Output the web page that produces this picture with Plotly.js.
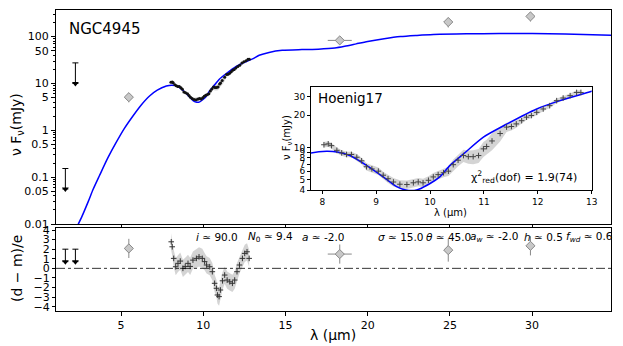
<!DOCTYPE html>
<html><head><meta charset="utf-8">
<script src="https://cdn.plot.ly/plotly-3.0.1.min.js"></script>
<style>html,body{margin:0;padding:0;background:#fff}#plot{width:623px;height:346px}</style>
</head><body><div id="plot"></div>
<script>
// ---- model SED (blue line) ----
const modelLam = [2.3, 2.6, 3.0, 3.3, 3.68, 4.2, 4.7, 5.2, 5.71, 6.2, 6.73, 7.2, 7.75, 8.08, 8.3, 8.51, 8.82, 9.13, 9.38, 9.55, 9.75, 10.0, 10.18, 10.37, 10.62, 10.99, 11.42, 11.98, 12.41, 13.0, 13.4, 14.0, 14.8, 16.0, 17.0, 18.0, 18.6, 19.3, 20.0, 21.0, 22.0, 23.0, 24.0, 26.0, 28.0, 30.0, 32.0, 34.8];
const modelF   = [0.0085, 0.014, 0.03, 0.055, 0.107, 0.26, 0.55, 1.1, 2.0, 3.4, 5.4, 7.2, 8.8, 9.2, 9.0, 8.4, 6.8, 5.3, 4.3, 4.0, 4.0, 4.6, 5.3, 6.8, 8.7, 12.5, 16.5, 22.9, 27.4, 33.5, 40, 46, 51, 53, 54, 57, 62, 70, 79, 90, 100, 106, 111, 115, 116, 116, 113, 107];

// ---- spectrum (Hoenig17) ----
const specLam = [8.03, 8.11, 8.17, 8.27, 8.36, 8.45, 8.54, 8.64, 8.73, 8.82, 8.92, 9.04, 9.13, 9.22, 9.32, 9.44, 9.57, 9.69, 9.78, 9.87, 9.97, 10.06, 10.15, 10.25, 10.34, 10.43, 10.52, 10.62, 10.71, 10.8, 10.9, 10.99, 11.05, 11.15, 11.3, 11.42, 11.51, 11.6, 11.7, 11.79, 11.88, 11.98, 12.1, 12.22, 12.35, 12.47, 12.6, 12.72, 12.8];
const specF   = [10.6, 10.8, 10.4, 9.4, 8.9, 8.6, 8.6, 8.1, 7.5, 6.6, 6.3, 6.0, 5.5, 5.1, 4.75, 4.53, 4.5, 4.67, 4.76, 4.67, 4.93, 5.3, 5.57, 5.8, 6.0, 6.9, 7.6, 8.4, 8.2, 8.2, 8.4, 9.7, 10.2, 11.5, 13.5, 15.5, 15.7, 16.6, 17.8, 19.2, 19.9, 21.3, 22.9, 24.6, 27.4, 29.0, 30.5, 32.7, 32.7];
const specErrFrac = [0.06, 0.06, 0.06, 0.06, 0.06, 0.06, 0.06, 0.07, 0.07, 0.08, 0.08, 0.08, 0.08, 0.09, 0.09, 0.09, 0.09, 0.09, 0.09, 0.09, 0.09, 0.09, 0.09, 0.09, 0.10, 0.12, 0.12, 0.13, 0.14, 0.15, 0.15, 0.16, 0.16, 0.18, 0.16, 0.10, 0.08, 0.08, 0.06, 0.06, 0.05, 0.05, 0.05, 0.05, 0.05, 0.05, 0.05, 0.05, 0.05];

// ---- photometry ----
const photLam = [5.47, 18.3, 24.9, 29.9];
const photF = [5.1, 83, 205, 270];
const photErr = [1.15, 5, 48, 60];
const photXErr = [0, 0.73, 0, 0];

// ---- upper limits ----
const ulLam = [1.61, 2.22];
const ulVal = [0.056, 10];
const ulTop = [0.153, 27.5];

// ---- residuals ----
const resLam = [8.05, 8.11, 8.2, 8.32, 8.46, 8.6, 8.76, 8.9, 9.07, 9.2, 9.37, 9.58, 9.74, 9.94, 10.08, 10.2, 10.39, 10.55, 10.69, 10.8, 10.86, 10.96, 11.04, 11.17, 11.3, 11.45, 11.61, 11.77, 11.91, 12.05, 12.2, 12.38, 12.52, 12.66, 12.79];
const resVal = [2.77, 2.25, 1.04, 0.17, 0.52, 0.76, 0.0, 0.2, 0.52, 0.2, 0.86, 1.04, 1.2, 1.04, 0.7, 0.35, 0.17, -0.35, -1.56, -2.08, -2.78, -2.95, -2.26, -1.3, -0.7, -1.22, -1.4, -1.56, -1.22, -0.35, 0.35, 1.04, 1.56, 1.73, 1.04];
const resBand = [0.9, 0.9, 0.9, 0.9, 0.9, 0.9, 0.9, 0.9, 0.9, 0.9, 0.9, 1.0, 1.0, 1.0, 0.9, 0.9, 0.9, 0.9, 0.9, 0.9, 0.9, 0.95, 0.95, 0.9, 0.9, 0.9, 0.9, 0.9, 0.9, 0.9, 0.9, 0.9, 0.9, 0.9, 0.9];
const resPhotVal = [2.08, 1.49, 1.9, 2.35];
const resPhotErr = [1.0, 1.0, 1.2, 1.0];
const resUlVal = [0.7, 0.7];
const resUlTop = [2.0, 2.0];

const mainYTicks = [0.01, 0.05, 0.1, 0.5, 1, 5, 10, 50, 100];
const mainYText = ['0.01', '0.05', '0.1', '0.5', '1', '5', '10', '50', '100'];
const xTicks = [5, 10, 15, 20, 25, 30];
const resTicks = [-4, -3, -2, -1, 0, 1, 2, 3, 4];
const resTickText = ['−4', '−3', '−2', '−1', '0', '1', '2', '3', '4'];
const insetXTicks = [8, 9, 10, 11, 12, 13];
const insetYTicks = [4, 5, 6, 7, 8, 9, 10, 20, 30];

// build helpers
const minorVals = [];
[0.01, 0.1, 1, 10, 100].forEach(d => { for (let k = 2; k <= 9; k++) minorVals.push(d * k); });

function bandPoly(x, lo, hi) {
  return { x: x.concat(x.slice().reverse()), y: lo.concat(hi.slice().reverse()) };
}
const specLo = specF.map((v, i) => v * (1 - specErrFrac[i]));
const specHi = specF.map((v, i) => v * (1 + specErrFrac[i]));
const specBand = bandPoly(specLam, specLo, specHi);
const resBandPoly = bandPoly(resLam, resVal.map((v, i) => v - resBand[i]), resVal.map((v, i) => v + resBand[i]));

const bandColor = 'rgba(205,205,205,0.85)';
const traces = [];
// main panel
traces.push({ x: specBand.x, y: specBand.y, xaxis: 'x', yaxis: 'y', fill: 'toself', fillcolor: bandColor, line: { width: 0 }, mode: 'lines', hoverinfo: 'skip' });
traces.push({ x: modelLam, y: modelF, xaxis: 'x', yaxis: 'y', mode: 'lines', line: { color: '#0000ff', width: 1.5, shape: 'spline', smoothing: 0.7 } });
traces.push({ x: specLam, y: specF, xaxis: 'x', yaxis: 'y', mode: 'markers', marker: { color: '#111', size: 3 } });
traces.push({ x: photLam, y: photF, xaxis: 'x', yaxis: 'y', mode: 'markers',
  marker: { symbol: 'diamond', size: 7, color: '#c8c8c8', line: { color: '#888', width: 1 } },
  error_y: { type: 'data', array: photErr, color: '#888', thickness: 1, width: 0 },
  error_x: { type: 'data', array: photXErr, color: '#888', thickness: 1, width: 0 } });
traces.push({ x: ulLam, y: ulVal, xaxis: 'x', yaxis: 'y', mode: 'markers',
  marker: { symbol: 'triangle-down', size: 6, color: '#000' },
  error_y: { type: 'data', symmetric: false, array: ulTop.map((t, i) => t - ulVal[i]), arrayminus: [0, 0], color: '#000', thickness: 1, width: 3 } });

// residual panel
traces.push({ x: resBandPoly.x, y: resBandPoly.y, xaxis: 'x2', yaxis: 'y2', fill: 'toself', fillcolor: bandColor, line: { width: 0 }, mode: 'lines', hoverinfo: 'skip' });
traces.push({ x: resLam, y: resVal, xaxis: 'x2', yaxis: 'y2', mode: 'markers', marker: { symbol: 'cross-thin', size: 4, line: { color: '#333', width: 1 } } });
traces.push({ x: photLam, y: resPhotVal, xaxis: 'x2', yaxis: 'y2', mode: 'markers',
  marker: { symbol: 'diamond', size: 7, color: '#c8c8c8', line: { color: '#888', width: 1 } },
  error_y: { type: 'data', array: resPhotErr, color: '#888', thickness: 1, width: 0 },
  error_x: { type: 'data', array: photXErr, color: '#888', thickness: 1, width: 0 } });
traces.push({ x: ulLam, y: resUlVal, xaxis: 'x2', yaxis: 'y2', mode: 'markers',
  marker: { symbol: 'triangle-down', size: 6, color: '#000' },
  error_y: { type: 'data', symmetric: false, array: resUlTop.map((t, i) => t - resUlVal[i]), arrayminus: [0, 0], color: '#000', thickness: 1, width: 3 } });

// inset
traces.push({ x: specBand.x, y: specBand.y, xaxis: 'x3', yaxis: 'y3', fill: 'toself', fillcolor: bandColor, line: { width: 0 }, mode: 'lines', hoverinfo: 'skip' });
traces.push({ x: modelLam, y: modelF, xaxis: 'x3', yaxis: 'y3', mode: 'lines', line: { color: '#0000ff', width: 1.5, shape: 'spline', smoothing: 0.7 } });
traces.push({ x: specLam, y: specF, xaxis: 'x3', yaxis: 'y3', mode: 'markers', marker: { symbol: 'cross-thin', size: 4, line: { color: '#444', width: 1 } } });

const F = 'DejaVu Sans, sans-serif';
const axBase = { showline: true, linecolor: '#000', linewidth: 1, mirror: true, ticks: 'outside', tickcolor: '#000', showgrid: false, zeroline: false, tickfont: { family: F, size: 11, color: '#000' } };
const L = 56, R = 611, T = 10, B = 311;
const px = v => (v - L) / (R - L);
const py = v => (B - v) / (B - T);
const pFont = { family: F, size: 10.5 };

const layout = {
  width: 623, height: 346, showlegend: false,
  margin: { l: L, r: 623 - R, t: T, b: 346 - B },
  paper_bgcolor: '#fff', plot_bgcolor: '#fff',
  font: { family: F, color: '#000' },
  xaxis: Object.assign({}, axBase, { domain: [0, 1], anchor: 'y', range: [1.04, 34.8], tickvals: xTicks, showticklabels: false, ticklen: 3 }),
  yaxis: Object.assign({}, axBase, { domain: [py(224), 1], anchor: 'x', type: 'log', range: [-2, 2.568], tickvals: mainYTicks, ticktext: mainYText, ticklen: 4,
    minor: { tickvals: minorVals, ticks: 'outside', ticklen: 2, tickcolor: '#000', showgrid: false } }),
  xaxis2: Object.assign({}, axBase, { domain: [0, 1], anchor: 'y2', range: [1.04, 34.8], tickvals: xTicks, ticklen: 4 }),
  yaxis2: Object.assign({}, axBase, { domain: [0, py(228)], anchor: 'x2', range: [-4.45, 4.21], tickvals: resTicks, ticktext: resTickText, ticklen: 3 }),
  xaxis3: Object.assign({}, axBase, { domain: [px(311), px(591.7)], anchor: 'y3', range: [7.79, 13], tickvals: insetXTicks, ticklen: 3, tickfont: { family: F, size: 9, color: '#000' } }),
  yaxis3: Object.assign({}, axBase, { domain: [py(190), py(86.7)], anchor: 'x3', type: 'log', range: [Math.log10(4), Math.log10(37)], tickvals: insetYTicks, ticklen: 3, tickfont: { family: F, size: 9, color: '#000' } }),
  shapes: [
    { type: 'line', xref: 'x2 domain', yref: 'y2', x0: 0, x1: 1, y0: 0, y1: 0, line: { color: '#000', width: 0.8, dash: 'dashdot' } }
  ],
  annotations: [
    { text: 'NGC4945', xref: 'paper', yref: 'paper', x: px(67), y: py(29), xanchor: 'left', yanchor: 'middle', showarrow: false, font: { family: F, size: 15 } },
    { text: 'Hoenig17', xref: 'paper', yref: 'paper', x: px(316), y: py(98), xanchor: 'left', yanchor: 'middle', showarrow: false, font: { family: F, size: 13.5 } },
    { text: 'χ<sup>2</sup><sub>red</sub>(dof) = 1.9(74)', xref: 'paper', yref: 'paper', x: px(469), y: py(177), xanchor: 'left', yanchor: 'middle', showarrow: false, font: { family: F, size: 11 } },
    { text: 'ν F<sub>ν</sub>(mJy)', xref: 'paper', yref: 'paper', x: px(17), y: py(125), textangle: -90, xanchor: 'center', yanchor: 'middle', showarrow: false, font: { family: F, size: 14 } },
    { text: '(d − m)/e', xref: 'paper', yref: 'paper', x: px(17), y: py(269), textangle: -90, xanchor: 'center', yanchor: 'middle', showarrow: false, font: { family: F, size: 14 } },
    { text: 'λ (μm)', xref: 'paper', yref: 'paper', x: px(333), y: py(335), xanchor: 'center', yanchor: 'middle', showarrow: false, font: { family: F, size: 14 } },
    { text: 'ν F<sub>ν</sub>(mJy)', xref: 'paper', yref: 'paper', x: px(287), y: py(138), textangle: -90, xanchor: 'center', yanchor: 'middle', showarrow: false, font: { family: F, size: 10 } },
    { text: 'λ (μm)', xref: 'paper', yref: 'paper', x: px(451), y: py(212), xanchor: 'center', yanchor: 'middle', showarrow: false, font: { family: F, size: 10 } },
    { text: '<i>i</i> ≃ 90.0', xref: 'paper', yref: 'paper', x: px(194), y: py(237), xanchor: 'left', yanchor: 'middle', showarrow: false, font: pFont },
    { text: '<i>N</i><sub>0</sub> ≃ 9.4', xref: 'paper', yref: 'paper', x: px(246), y: py(237), xanchor: 'left', yanchor: 'middle', showarrow: false, font: pFont },
    { text: '<i>a</i> ≃ -2.0', xref: 'paper', yref: 'paper', x: px(300), y: py(237), xanchor: 'left', yanchor: 'middle', showarrow: false, font: pFont },
    { text: '<i>σ</i> ≃ 15.0', xref: 'paper', yref: 'paper', x: px(376), y: py(237), xanchor: 'left', yanchor: 'middle', showarrow: false, font: pFont },
    { text: '<i>θ</i> ≃ 45.0', xref: 'paper', yref: 'paper', x: px(424), y: py(237), xanchor: 'left', yanchor: 'middle', showarrow: false, font: pFont },
    { text: '<i>a<sub>w</sub></i> ≃ -2.0', xref: 'paper', yref: 'paper', x: px(468), y: py(237), xanchor: 'left', yanchor: 'middle', showarrow: false, font: pFont },
    { text: '<i>h</i> ≃ 0.5', xref: 'paper', yref: 'paper', x: px(522), y: py(237), xanchor: 'left', yanchor: 'middle', showarrow: false, font: pFont },
    { text: '<i>f<sub>wd</sub></i> ≃ 0.6', xref: 'paper', yref: 'paper', x: px(564), y: py(237), xanchor: 'left', yanchor: 'middle', showarrow: false, font: pFont }
  ]
};
Plotly.newPlot('plot', traces, layout, { staticPlot: true, displayModeBar: false });
</script></body></html>
